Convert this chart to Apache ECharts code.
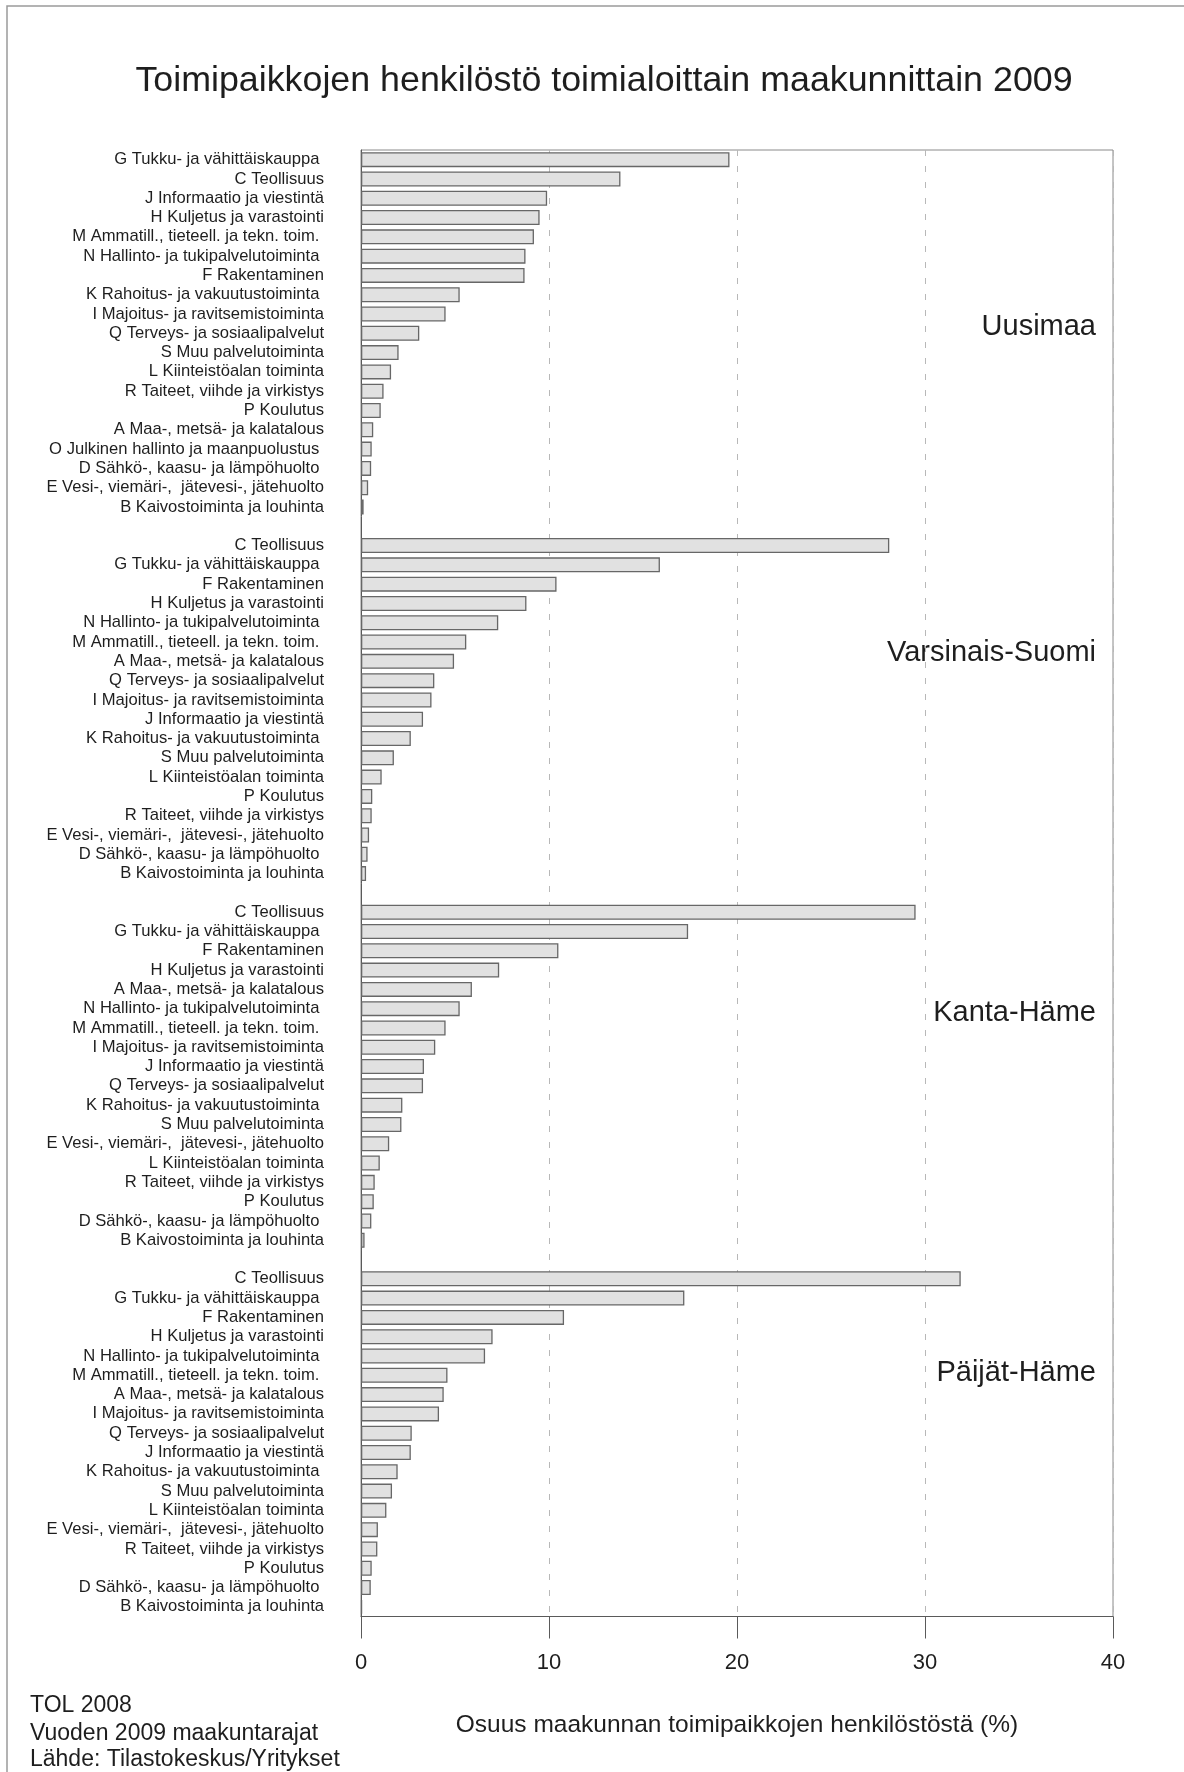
<!DOCTYPE html>
<html>
<head>
<meta charset="utf-8">
<script src="https://cdn.jsdelivr.net/npm/echarts@6/dist/echarts.min.js"></script>
<style>
html,body{margin:0;padding:0;background:#fff;}
#chart{width:1184px;height:1772px;}
</style>
</head>
<body>
<div id="chart"></div>
<script>
// ---- Data ----
const regionNames = ['Uusimaa', 'Varsinais-Suomi', 'Kanta-Häme', 'Päijät-Häme'];

const uusimaaCats = ['G Tukku- ja vähittäiskauppa ', 'C Teollisuus', 'J Informaatio ja viestintä', 'H Kuljetus ja varastointi', 'M Ammatill., tieteell. ja tekn. toim. ', 'N Hallinto- ja tukipalvelutoiminta ', 'F Rakentaminen', 'K Rahoitus- ja vakuutustoiminta ', 'I Majoitus- ja ravitsemistoiminta', 'Q Terveys- ja sosiaalipalvelut', 'S Muu palvelutoiminta', 'L Kiinteistöalan toiminta', 'R Taiteet, viihde ja virkistys', 'P Koulutus', 'A Maa-, metsä- ja kalatalous', 'O Julkinen hallinto ja maanpuolustus ', 'D Sähkö-, kaasu- ja lämpöhuolto ', 'E Vesi-, viemäri-,  jätevesi-, jätehuolto', 'B Kaivostoiminta ja louhinta'];
const uusimaaVals = [19.6, 13.8, 9.9, 9.5, 9.2, 8.75, 8.7, 5.25, 4.5, 3.1, 2.0, 1.6, 1.2, 1.05, 0.65, 0.57, 0.54, 0.38, 0.14];

const varsinaisCats = ['C Teollisuus', 'G Tukku- ja vähittäiskauppa ', 'F Rakentaminen', 'H Kuljetus ja varastointi', 'N Hallinto- ja tukipalvelutoiminta ', 'M Ammatill., tieteell. ja tekn. toim. ', 'A Maa-, metsä- ja kalatalous', 'Q Terveys- ja sosiaalipalvelut', 'I Majoitus- ja ravitsemistoiminta', 'J Informaatio ja viestintä', 'K Rahoitus- ja vakuutustoiminta ', 'S Muu palvelutoiminta', 'L Kiinteistöalan toiminta', 'P Koulutus', 'R Taiteet, viihde ja virkistys', 'E Vesi-, viemäri-,  jätevesi-, jätehuolto', 'D Sähkö-, kaasu- ja lämpöhuolto ', 'B Kaivostoiminta ja louhinta'];
const varsinaisVals = [28.1, 15.9, 10.4, 8.8, 7.3, 5.6, 4.95, 3.9, 3.75, 3.3, 2.65, 1.75, 1.1, 0.6, 0.57, 0.43, 0.35, 0.27];

const kantaCats = ['C Teollisuus', 'G Tukku- ja vähittäiskauppa ', 'F Rakentaminen', 'H Kuljetus ja varastointi', 'A Maa-, metsä- ja kalatalous', 'N Hallinto- ja tukipalvelutoiminta ', 'M Ammatill., tieteell. ja tekn. toim. ', 'I Majoitus- ja ravitsemistoiminta', 'J Informaatio ja viestintä', 'Q Terveys- ja sosiaalipalvelut', 'K Rahoitus- ja vakuutustoiminta ', 'S Muu palvelutoiminta', 'E Vesi-, viemäri-,  jätevesi-, jätehuolto', 'L Kiinteistöalan toiminta', 'R Taiteet, viihde ja virkistys', 'P Koulutus', 'D Sähkö-, kaasu- ja lämpöhuolto ', 'B Kaivostoiminta ja louhinta'];
const kantaVals = [29.5, 17.4, 10.5, 7.35, 5.9, 5.25, 4.5, 3.95, 3.35, 3.3, 2.2, 2.15, 1.5, 1.0, 0.73, 0.68, 0.55, 0.19];

const paijatCats = ['C Teollisuus', 'G Tukku- ja vähittäiskauppa ', 'F Rakentaminen', 'H Kuljetus ja varastointi', 'N Hallinto- ja tukipalvelutoiminta ', 'M Ammatill., tieteell. ja tekn. toim. ', 'A Maa-, metsä- ja kalatalous', 'I Majoitus- ja ravitsemistoiminta', 'Q Terveys- ja sosiaalipalvelut', 'J Informaatio ja viestintä', 'K Rahoitus- ja vakuutustoiminta ', 'S Muu palvelutoiminta', 'L Kiinteistöalan toiminta', 'E Vesi-, viemäri-,  jätevesi-, jätehuolto', 'R Taiteet, viihde ja virkistys', 'P Koulutus', 'D Sähkö-, kaasu- ja lämpöhuolto ', 'B Kaivostoiminta ja louhinta'];
const paijatVals = [31.9, 17.2, 10.8, 7.0, 6.6, 4.6, 4.4, 4.15, 2.7, 2.65, 1.95, 1.65, 1.35, 0.9, 0.87, 0.57, 0.52, 0.06];

const xTicks = [0, 10, 20, 30, 40];

const titleText = 'Toimipaikkojen henkilöstö toimialoittain maakunnittain 2009';
const xAxisName = 'Osuus maakunnan toimipaikkojen henkilöstöstä (%)';
const notes = ['TOL 2008', 'Vuoden 2009 maakuntarajat', 'Lähde: Tilastokeskus/Yritykset'];

// ---- Build combined category axis (one blank slot between regions) ----
const regionCats = [uusimaaCats, varsinaisCats, kantaCats, paijatCats];
const regionVals = [uusimaaVals, varsinaisVals, kantaVals, paijatVals];
const axisKeys = [];
const barData = [];
regionCats.forEach(function (cats, r) {
  if (r > 0) { axisKeys.push('gap' + r); barData.push('-'); }
  cats.forEach(function (c, i) {
    axisKeys.push(r + '|' + c);
    barData.push(regionVals[r][i]);
  });
});

const FONT = "'Liberation Sans', Arial, Helvetica, sans-serif";
const chart = echarts.init(document.getElementById('chart'), null, {renderer: 'canvas'});

const regionLabelY = [327, 653, 1013, 1373];

const option = {
  backgroundColor: '#ffffff',
  animation: false,
  textStyle: {fontFamily: FONT},
  grid: {
    left: 361, right: 71, top: 150, bottom: 155.5,
    show: true, borderColor: '#8a8a8a', borderWidth: 1, containLabel: false
  },
  xAxis: {
    type: 'value', min: 0, max: 40, interval: 10,
    position: 'bottom',
    axisLine: {show: true, lineStyle: {color: '#5a5a5a', width: 1}},
    axisTick: {show: true, length: 22, lineStyle: {color: '#5a5a5a', width: 1}},
    axisLabel: {
      margin: 35, fontSize: 22, color: '#1e1e1e', fontFamily: FONT,
      formatter: function (v) { return xTicks.indexOf(v) >= 0 ? String(v) : ''; }
    },
    splitLine: {show: true, lineStyle: {color: '#b8b8b8', width: 1, type: [6, 10]}},
    name: xAxisName, nameLocation: 'middle', nameGap: 96,
    nameTextStyle: {fontSize: 24.5, color: '#1e1e1e', fontFamily: FONT}
  },
  yAxis: {
    type: 'category', inverse: true, data: axisKeys,
    axisLine: {show: true, lineStyle: {color: '#5a5a5a', width: 1}},
    axisTick: {show: false},
    splitLine: {show: false},
    axisLabel: {
      interval: 0, margin: 37, fontSize: 16.6, color: '#1e1e1e', fontFamily: FONT,
      formatter: function (v) { const p = v.split('|'); return p.length > 1 ? p[1] : ''; }
    }
  },
  series: [{
    type: 'bar',
    data: barData,
    barWidth: 15,
    itemStyle: {color: '#e1e1e1', borderColor: '#676767', borderWidth: 1.3},
    emphasis: {disabled: true}
  }],
  graphic: [
    {type: 'rect', silent: true, shape: {x: 7, y: 6, width: 1300, height: 1900},
     style: {fill: null, stroke: '#9a9a9a', lineWidth: 1.5}},
    {type: 'text', silent: true, x: 604, y: 81,
     style: {text: titleText, font: '35.8px ' + FONT, fill: '#1e1e1e', textAlign: 'center', textVerticalAlign: 'middle'}}
  ].concat(regionNames.map(function (n, i) {
    return {type: 'text', silent: true, x: 1096, y: regionLabelY[i],
      style: {text: n, font: '29px ' + FONT, fill: '#1e1e1e', textAlign: 'right', textVerticalAlign: 'middle'}};
  })).concat(notes.map(function (t, i) {
    return {type: 'text', silent: true, x: 30, y: [1706, 1734, 1760][i],
      style: {text: t, font: '23px ' + FONT, fill: '#1e1e1e', textAlign: 'left', textVerticalAlign: 'middle'}};
  }))
};
chart.setOption(option);
</script>
</body>
</html>
